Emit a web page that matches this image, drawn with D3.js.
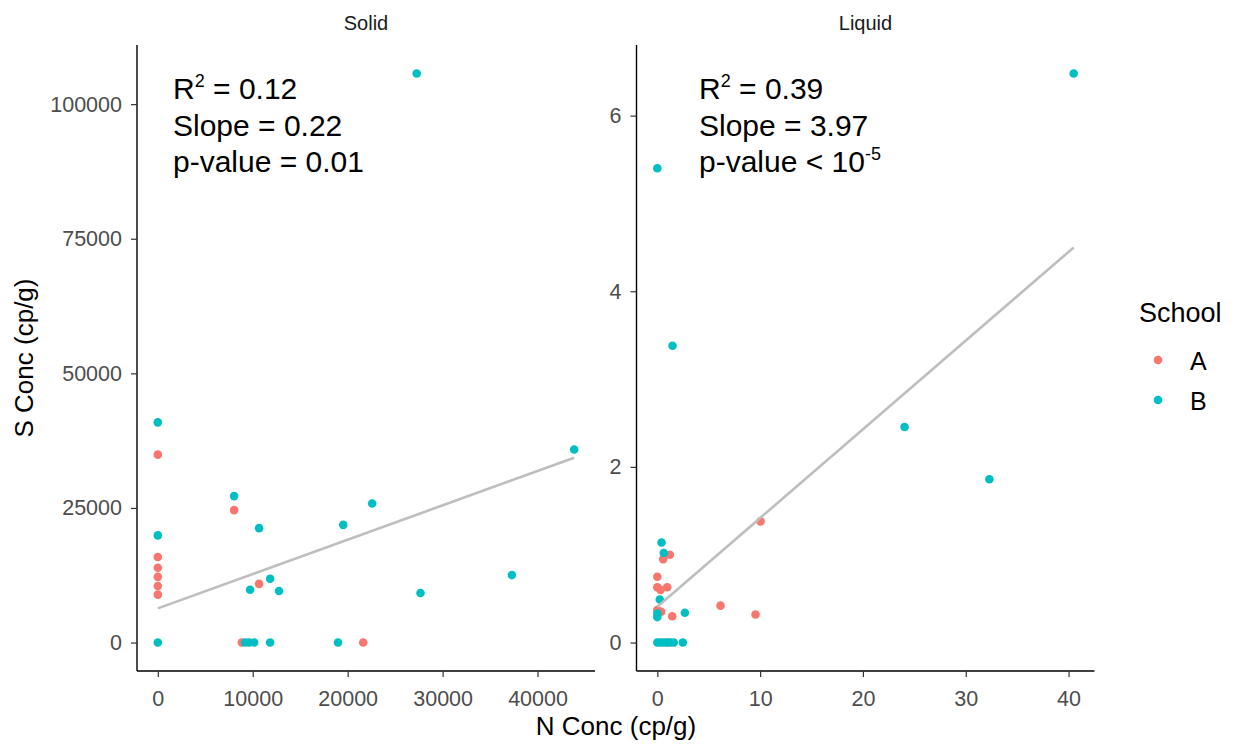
<!DOCTYPE html>
<html>
<head>
<meta charset="utf-8">
<script src="https://cdn.jsdelivr.net/npm/d3@7"></script>
<style>
  html, body { margin: 0; padding: 0; background: #ffffff; }
  svg { display: block; font-family: "Liberation Sans", Arial, sans-serif; }
</style>
</head>
<body>
<svg id="chart" width="1236" height="751"></svg>
<script>
// ---------------- data ----------------
const panels = ["Solid", "Liquid"];
const schools = ["A", "B"];
const schoolColors = ["#F8766D", "#00BFC4"];

// Solid panel: [N Conc, S Conc]
const solidA = [
  [0, 34900], [0, 15900], [0, 13900], [0, 12200], [0, 10500], [0, 8900],
  [8040, 24600], [10670, 10900], [8850, 0], [21640, 0]
];
const solidB = [
  [0, 40900], [0, 19900], [0, 0], [27270, 105700], [8040, 27200],
  [10670, 21250], [9720, 9800], [11830, 11840], [12770, 9560],
  [19530, 21860], [22580, 25830], [27670, 9190], [37300, 12530],
  [43860, 35850], [18980, 0], [9200, 0], [9620, 0], [10150, 0], [11830, 0]
];
// Liquid panel
const liquidA = [
  [10.04, 1.38], [6.15, 0.42], [9.55, 0.32], [0.57, 0.95], [1.22, 1.0],
  [0, 0.75], [0, 0.63], [0.31, 0.60], [0.96, 0.63], [0, 0.37],
  [0.38, 0.35], [1.45, 0.30], [1.02, 0]
];
const liquidB = [
  [40.5, 6.48], [0, 5.40], [1.48, 3.38], [24.05, 2.455], [32.3, 1.86],
  [0.41, 1.14], [0.63, 1.02], [0.24, 0.49], [0, 0.33], [0, 0.29],
  [2.68, 0.34], [0, 0], [0.3, 0], [0.6, 0], [0.9, 0], [1.3, 0], [1.6, 0], [2.48, 0]
];

// fitted lines: [intercept, slope]
const solidFit = [6350, 0.6377];
const liquidFit = [0.408, 0.101];

const solidXTicks = [0, 10000, 20000, 30000, 40000];
const solidYTicks = [0, 25000, 50000, 75000, 100000];
const liquidXTicks = [0, 10, 20, 30, 40];
const liquidYTicks = [0, 2, 4, 6];

const statsText = [
  { r2: "0.12", slope: "0.22", p: "= 0.01", pExp: null },
  { r2: "0.39", slope: "3.97", p: "< 10", pExp: "-5" }
];

const xTitle = "N Conc (cp/g)";
const yTitle = "S Conc (cp/g)";
const legendTitle = "School";

// ---------------- layout ----------------
const svg = d3.select("#chart");
svg.append("rect").attr("width", 1236).attr("height", 751).attr("fill", "#fff");

const panelTop = 45, panelBottom = 671;
const panelX = [[137, 595], [636.5, 1094.5]];
const statsX = [173, 699];

const panelData = [
  { A: solidA, B: solidB, fit: solidFit, xt: solidXTicks, yt: solidYTicks },
  { A: liquidA, B: liquidB, fit: liquidFit, xt: liquidXTicks, yt: liquidYTicks }
];

function expanded(vals) {
  const [lo, hi] = d3.extent(vals);
  const pad = (hi - lo) * 0.05;
  return [lo - pad, hi + pad];
}

panelData.forEach((pd, i) => {
  const all = pd.A.concat(pd.B);
  const x = d3.scaleLinear().domain(expanded(all.map(d => d[0]))).range(panelX[i]);
  const y = d3.scaleLinear().domain(expanded(all.map(d => d[1]))).range([panelBottom, panelTop]);
  const g = svg.append("g");

  // axes
  const xAxis = d3.axisBottom(x).tickValues(pd.xt).tickFormat(d3.format("d")).tickSize(6).tickPadding(14).tickSizeOuter(0);
  const yAxis = d3.axisLeft(y).tickValues(pd.yt).tickFormat(d3.format("d")).tickSize(6).tickPadding(9).tickSizeOuter(0);

  const gx = g.append("g").attr("transform", `translate(0,${panelBottom})`).call(xAxis);
  const gy = g.append("g").attr("transform", `translate(${panelX[i][0]},0)`).call(yAxis);
  [gx, gy].forEach(a => {
    a.select(".domain").attr("stroke", "#000").attr("stroke-width", 1.4);
    a.selectAll(".tick line").attr("stroke", "#333").attr("stroke-width", 1.2);
    a.selectAll(".tick text").attr("fill", "#4d4d4d").style("font-size", "21.5px")
      .style("font-family", "'Liberation Sans', Arial, sans-serif");
  });
  // extend domain lines to full panel
  gx.select(".domain").attr("d", `M${panelX[i][0]},0H${panelX[i][1]}`);
  gy.select(".domain").attr("d", `M0,${panelTop}V${panelBottom}`);

  // points
  schools.forEach((s, si) => {
    g.append("g").selectAll("circle").data(pd[s]).join("circle")
      .attr("cx", d => x(d[0])).attr("cy", d => y(d[1]))
      .attr("r", 4.3).attr("fill", schoolColors[si]);
  });

  // fit line
  const xmin = d3.min(all, d => d[0]), xmax = d3.max(all, d => d[0]);
  const line = d3.line().x(d => x(d)).y(d => y(pd.fit[0] + pd.fit[1] * d));
  g.append("path").datum([xmin, xmax]).attr("d", line)
    .attr("fill", "none").attr("stroke", "#bebebe").attr("stroke-width", 2.6);

  // strip label
  svg.append("text").attr("x", (panelX[i][0] + panelX[i][1]) / 2).attr("y", 30)
    .attr("text-anchor", "middle").attr("fill", "#1a1a1a").style("font-size", "20px")
    .text(panels[i]);

  // stats annotation
  const st = statsText[i];
  const tx = statsX[i];
  const t = svg.append("g").style("font-size", "30px").attr("fill", "#000");
  const l1 = t.append("text").attr("x", tx).attr("y", 99);
  l1.append("tspan").text("R");
  l1.append("tspan").attr("dy", -12).style("font-size", "18px").text("2");
  l1.append("tspan").attr("dy", 12).text(" = " + st.r2);
  t.append("text").attr("x", tx).attr("y", 135.5).text("Slope = " + st.slope);
  const l3 = t.append("text").attr("x", tx).attr("y", 172);
  l3.append("tspan").text("p-value " + st.p);
  if (st.pExp) l3.append("tspan").attr("dy", -12).style("font-size", "18px").text(st.pExp);
});

// axis titles
svg.append("text").attr("x", 616).attr("y", 735).attr("text-anchor", "middle")
  .attr("fill", "#000").style("font-size", "26px").text(xTitle);
svg.append("text").attr("transform", "translate(33,358) rotate(-90)").attr("text-anchor", "middle")
  .attr("fill", "#000").style("font-size", "26px").text(yTitle);

// legend
svg.append("text").attr("x", 1139).attr("y", 322).attr("fill", "#000")
  .style("font-size", "27px").text(legendTitle);
schools.forEach((s, si) => {
  svg.append("circle").attr("cx", 1158).attr("cy", 360 + si * 40).attr("r", 4.3).attr("fill", schoolColors[si]);
  svg.append("text").attr("x", 1190).attr("y", 369.5 + si * 40).attr("fill", "#000")
    .style("font-size", "25px").text(s);
});
</script>
</body>
</html>
